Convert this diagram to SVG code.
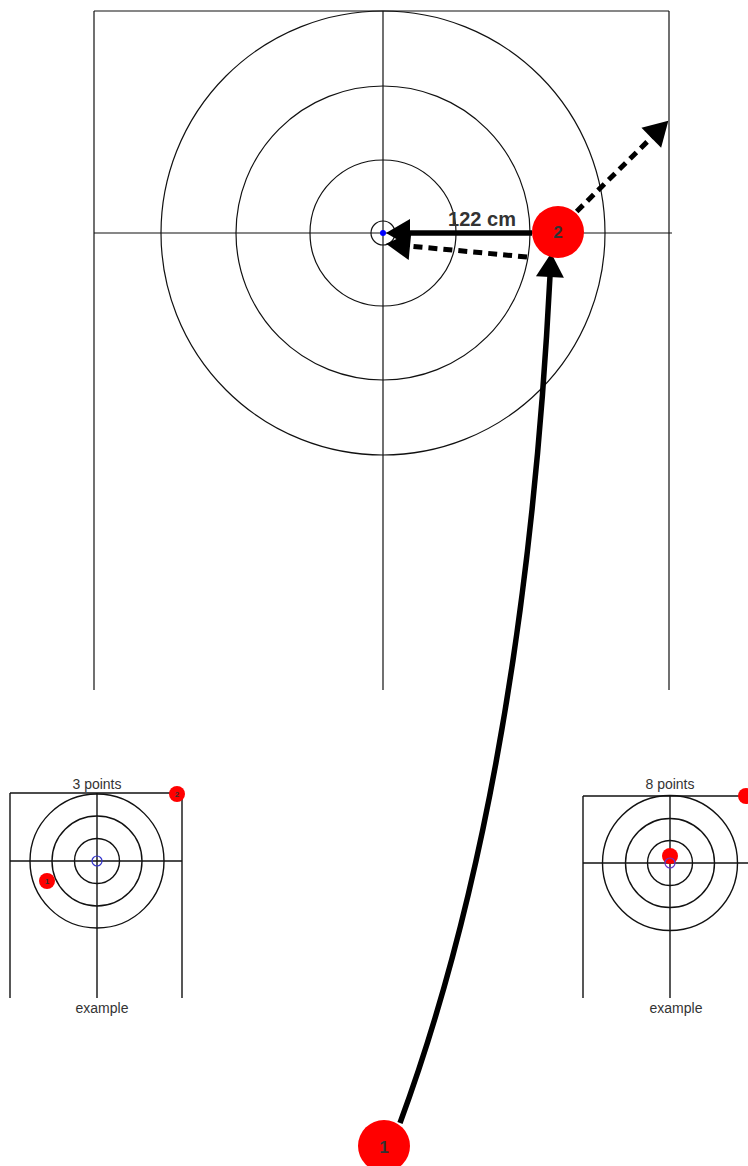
<svg xmlns="http://www.w3.org/2000/svg" width="748" height="1166" viewBox="0 0 748 1166">
<style>
.ln{stroke:#111;stroke-width:1.2;fill:none}
.sl{stroke:#111;stroke-width:1.4;fill:none}
.red{fill:#f00}
.lbl{font-family:"Liberation Sans",Arial,sans-serif;fill:#333;text-anchor:middle}
.big{stroke:#000;stroke-width:5.5;fill:none}
.dash{stroke:#000;stroke-width:5;fill:none;stroke-dasharray:9 6}
</style>
<defs>
<marker id="ah" markerUnits="userSpaceOnUse" markerWidth="26" markerHeight="30" refX="1" refY="14" orient="auto" overflow="visible">
<path d="M0,0 L24,14 L0,28 Z" fill="#000"/>
</marker>
</defs>
<rect width="748" height="1166" fill="#fff"/>
<g id="main-target">
<line class="ln" x1="94" y1="11" x2="669" y2="11"/>
<line class="ln" x1="94" y1="11" x2="94" y2="690"/>
<line class="ln" x1="383" y1="11" x2="383" y2="690"/>
<line class="ln" x1="669" y1="11" x2="669" y2="690"/>
<line class="ln" x1="94" y1="233" x2="672" y2="233"/>
<circle class="ln" cx="383" cy="233" r="222"/>
<circle class="ln" cx="383" cy="233" r="147"/>
<circle class="ln" cx="383" cy="233" r="73"/>
<circle class="ln" cx="383" cy="233" r="12"/>
<circle cx="383" cy="233" r="3" fill="#00f"/>
</g>
<g id="connectors">
<path class="big" d="M400,1123 Q524,787 550,276" marker-end="url(#ah)"/>
<line class="big" x1="532" y1="233" x2="409" y2="233" marker-end="url(#ah)"/>
<line class="dash" x1="527" y1="257" x2="409" y2="246" marker-end="url(#ah)"/>
<line class="dash" x1="566" y1="222" x2="652" y2="137" marker-end="url(#ah)"/>
<text class="lbl" x="482" y="226" font-size="20" font-weight="bold">122 cm</text>
</g>
<g id="node-2">
<circle class="red" cx="558" cy="232" r="26"/>
<text class="lbl" x="558" y="238" font-size="17" font-weight="bold">2</text>
</g>
<g id="node-1">
<circle class="red" cx="384" cy="1146" r="26"/>
<text class="lbl" x="384" y="1153" font-size="17" font-weight="bold">1</text>
</g>
<g id="example-left">
<line class="sl" x1="10" y1="793" x2="182" y2="793"/>
<line class="sl" x1="10" y1="793" x2="10" y2="998"/>
<line class="sl" x1="97" y1="793" x2="97" y2="998"/>
<line class="sl" x1="182" y1="793" x2="182" y2="998"/>
<line class="sl" x1="10" y1="861" x2="182" y2="861"/>
<circle class="sl" cx="97" cy="861" r="67"/>
<circle class="sl" cx="97" cy="861" r="45"/>
<circle class="sl" cx="97" cy="861" r="22.5"/>
<circle cx="97" cy="861" r="5" fill="none" stroke="#33c" stroke-width="1.2"/>
<text class="lbl" x="97" y="789" font-size="14">3 points</text>
<text class="lbl" x="102" y="1013" font-size="14">example</text>
<circle class="red" cx="47" cy="881" r="8"/>
<text class="lbl" x="47" y="884" font-size="8" font-weight="bold">1</text>
<circle class="red" cx="177" cy="794" r="8"/>
<text class="lbl" x="177" y="797" font-size="8" font-weight="bold">2</text>
</g>
<g id="example-right">
<line class="sl" x1="583" y1="796" x2="748" y2="796"/>
<line class="sl" x1="583" y1="796" x2="583" y2="998"/>
<line class="sl" x1="670" y1="796" x2="670" y2="998"/>
<line class="sl" x1="583" y1="863" x2="748" y2="863"/>
<circle class="sl" cx="670" cy="863" r="67.5"/>
<circle class="sl" cx="670" cy="863" r="44.5"/>
<circle class="sl" cx="670" cy="863" r="22.5"/>
<circle class="red" cx="670" cy="856" r="8"/>
<circle cx="670" cy="863" r="5" fill="none" stroke="#63c" stroke-width="1.2"/>
<text class="lbl" x="670" y="789" font-size="14">8 points</text>
<text class="lbl" x="676" y="1013" font-size="14">example</text>
<circle class="red" cx="746" cy="796" r="8"/>
</g>
</svg>
